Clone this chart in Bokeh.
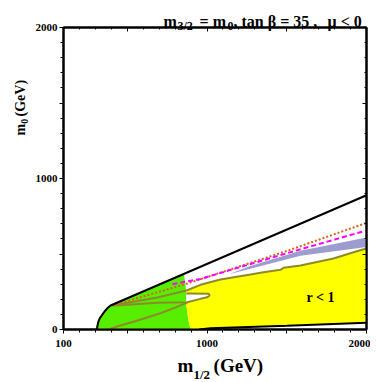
import numpy as np
from bokeh.plotting import figure
from bokeh.models import Range1d, LinearAxis, FixedTicker
from bokeh.core.properties import value
from bokeh.embed import file_html
from bokeh.resources import INLINE

# ---------------- data (m_1/2, m_0 in GeV) ----------------
# black boundary: rounded corner + straight line
bound_m12 = [310, 312, 318, 328, 343, 363, 380, 395, 2000]
bound_m0 = [0, 20, 50, 75, 98, 126, 146, 159, 889]

# lower black boundary near the axis
low_m12 = [950, 1022, 1500, 2000]
low_m0 = [0, 8, 25, 45]

# green / yellow border
gy_m12 = [855, 866, 872, 872, 884, 896]
gy_m0 = [368, 290, 200, 150, 60, 0]

# olive contour (top of yellow region)
olA_m12 = [405, 689, 871, 959, 1084, 1272, 1354, 1461, 1480, 1586, 1793, 1918, 2000]
olA_m0 = [159, 212, 258, 296, 331, 364, 379, 395, 409, 424, 470, 512, 536]

# olive contour: lower edge of band + notch outline
olB_m12 = [405, 457, 687, 875, 959, 1000, 1017, 1011, 870]
olB_m0 = [159, 160, 177, 180, 203, 213, 225, 236, 238]

# olive contour: lower line inside the green region
olC_m12 = [382, 450, 550, 708, 800, 875]
olC_m0 = [0, 25, 55, 108, 145, 178]

# white notch
notch_m12 = [870, 1011, 1017, 1000, 959, 875, 870]
notch_m0 = [236, 236, 225, 213, 203, 177, 177]

# lavender band
band_up_m12 = [1140, 1272, 1586, 2000]
band_up_m0 = [368, 420, 522, 610]
band_lo_m12 = [2000, 1586, 1272, 1140]
band_lo_m0 = [546, 488, 402, 368]

# dotted (orange) and dashed (magenta) lines
dot_m12 = [410, 877, 1500, 2000]
dot_m0 = [160, 305, 520, 706]
dash_m12 = [783, 959, 1500, 2000]
dash_m0 = [300, 335, 505, 656]

x_major = [100, 500, 1000, 1500, 2000]
x_labels = {500: "", 1500: ""}
x_minor = [v for v in range(200, 2000, 100) if v not in x_major]
y_major = [0, 500, 1000, 1500, 2000]
y_labels = {500: "", 1500: ""}
y_minor = [v for v in range(100, 2000, 100) if v not in y_major]

FONT = "Liberation Serif"

# ---------------- figure ----------------
p = figure(width=370, height=382, x_range=Range1d(100, 2000), y_range=Range1d(0, 2000),
           output_backend="svg", toolbar_location=None,
           min_border_left=63, min_border_right=4, min_border_top=27, min_border_bottom=53)
p.grid.visible = False
p.outline_line_color = "black"
p.outline_line_width = 2
p.background_fill_color = "white"
p.border_fill_color = "white"

# regions
top_y = 159 + (855 - 395) * (889 - 159) / (2000 - 395)
green_x = bound_m12[:-1] + [855] + gy_m12[1:] + [310]
green_y = bound_m0[:-1] + [top_y] + gy_m0[1:] + [0]
p.patch(green_x, green_y, fill_color="#58EE00", line_color=None)

yellow_x = [896] + low_m12 + [2000] + [a for a in olA_m12[::-1] if a >= 871] + gy_m12[2:]
yellow_y = [0] + low_m0 + [536] + [b for a, b in zip(olA_m12[::-1], olA_m0[::-1]) if a >= 871] + gy_m0[2:]
p.patch(yellow_x, yellow_y, fill_color="#FFFF00", line_color=None)

p.patch(band_up_m12 + band_lo_m12, band_up_m0 + band_lo_m0, fill_color="#9C9CCE", line_color=None)
p.patch(notch_m12, notch_m0, fill_color="white", line_color=None)

# contours
olive = "#8E8A2C"
p.line(olA_m12, olA_m0, line_color=olive, line_width=2)
p.line(olB_m12, olB_m0, line_color=olive, line_width=2)
p.line(olC_m12, olC_m0, line_color=olive, line_width=2)
p.line(dot_m12, dot_m0, line_color="#D8601A", line_width=2, line_dash="2 2")
p.line(dash_m12, dash_m0, line_color="#FF00FF", line_width=2, line_dash="5 3")
p.line(bound_m12, bound_m0, line_color="black", line_width=2)
p.line(low_m12, low_m0, line_color="black", line_width=2)

# ---------------- axes ----------------
xa = p.xaxis[0]
xa.ticker = FixedTicker(ticks=x_major, minor_ticks=x_minor)
xa.major_label_overrides = x_labels
ya = p.yaxis[0]
ya.ticker = FixedTicker(ticks=y_major, minor_ticks=y_minor)
ya.major_label_overrides = y_labels
for ax in (xa, ya):
    ax.axis_line_width = 2
    ax.major_tick_out = 4
    ax.major_tick_in = 0
    ax.minor_tick_out = 3
    ax.minor_tick_in = 0
    ax.major_label_text_font = FONT
    ax.major_label_text_font_style = "bold"
    ax.major_label_text_font_size = "11px"
    ax.major_label_text_color = "black"
xa.major_label_standoff = 6
ya.major_label_standoff = 2

top = LinearAxis(ticker=FixedTicker(ticks=x_major, minor_ticks=x_minor),
                 major_label_overrides={v: "" for v in x_major})
right = LinearAxis(ticker=FixedTicker(ticks=y_major, minor_ticks=y_minor),
                   major_label_overrides={v: "" for v in y_major})
for ax in (top, right):
    ax.axis_line_width = 2
    ax.major_tick_in = 4
    ax.major_tick_out = 0
    ax.minor_tick_in = 2
    ax.minor_tick_out = 0
    ax.major_label_standoff = 0
    ax.major_label_text_font_size = "1px"
p.add_layout(top, "above")
p.add_layout(right, "right")

# ---------------- texts ----------------
def lab(xs, ys, ts, size, angle=0.0):
    p.text(x=xs, y=ys, text=ts, text_font=value(FONT), text_font_style="bold",
           text_font_size=value(size), text_color="black", text_align="left",
           text_baseline="alphabetic", angle=angle, level="overlay")

# title
lab([727, 953, 1166, 1756], [2042, 2042, 2042, 2042],
    ["m", "= m", ", tan \u03b2 = 35 ,", "\u03bc < 0"], "16px")
lab([815, 1128], [2007, 2007], ["3/2", "0"], "12px")

# x axis label
lab([815, 1041], [-238, -238], ["m", "(GeV)"], "19px")
lab([915], [-298], ["1/2"], "13px")

# y axis label (rotated)
lab([-170, -170], [1285, 1411], ["m", "(GeV)"], "14px", np.pi / 2)
lab([-146], [1362], ["0"], "10px", np.pi / 2)

# region label
lab([1624], [212], ["r < 1"], "14px")

open("out.html", "w").write(file_html(p, INLINE))
